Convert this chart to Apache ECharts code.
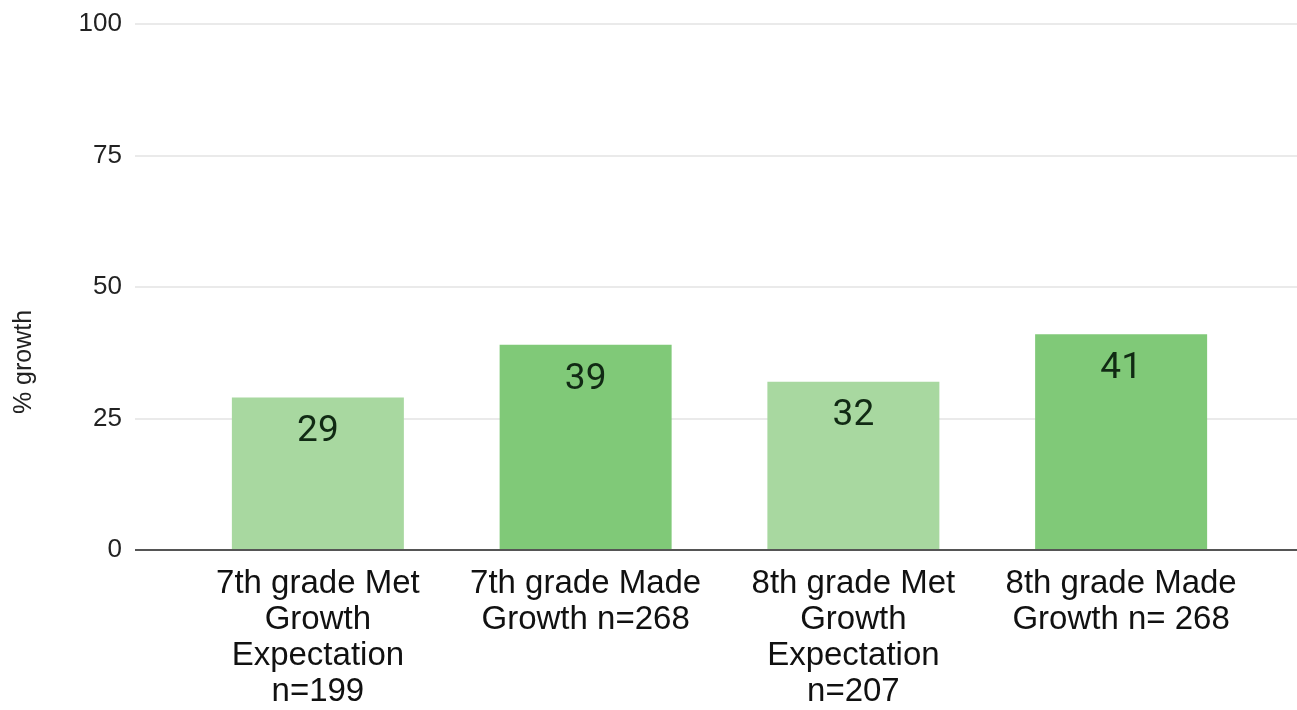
<!DOCTYPE html>
<html>
<head>
<meta charset="utf-8">
<script src="https://cdn.jsdelivr.net/npm/echarts@6/dist/echarts.min.js"></script>
<style>html,body{margin:0;padding:0;background:#fff}#c{width:1297px;height:710px}</style>
</head>
<body>
<div id="c"></div>
<script>
const categories = [
  "7th grade Met\nGrowth\nExpectation\nn=199",
  "7th grade Made\nGrowth n=268",
  "8th grade Met\nGrowth\nExpectation\nn=207",
  "8th grade Made\nGrowth n= 268"
];
const values = [29, 39, 32, 41];
const barColors = ["#a8d8a0", "#80c978", "#a8d8a0", "#80c978"];
const yTicks = [0, 25, 50, 75, 100];
const yTitle = "% growth";

const chart = echarts.init(document.getElementById('c'), null, {renderer: 'canvas'});
chart.setOption({
  animation: false,
  backgroundColor: '#fff',
  grid: [
    {left: 135, right: 0, top: 24, bottom: 160, containLabel: false},
    {left: 184, right: 42, top: 24, bottom: 160, containLabel: false}
  ],
  graphic: [{
    type: 'text', rotation: Math.PI / 2, x: 24, y: 362,
    style: {text: yTitle, font: '25px "Liberation Sans", Arial, sans-serif', fill: '#222',
      align: 'center', verticalAlign: 'middle', textAlign: 'center', textVerticalAlign: 'middle'}
  }],
  xAxis: [
    {gridIndex: 0, type: 'value', min: 0, max: 1, show: false},
    {gridIndex: 1, type: 'category', data: categories,
      axisLine: {show: false}, axisTick: {show: false},
      axisLabel: {interval: 0, color: '#111', fontSize: 33, lineHeight: 36,
        fontFamily: '"Liberation Sans", Arial, sans-serif', margin: 16}}
  ],
  yAxis: [
    {gridIndex: 0, type: 'value', min: yTicks[0], max: yTicks[yTicks.length - 1], interval: 25,
      axisLine: {show: false}, axisTick: {show: false},
      splitLine: {lineStyle: {color: '#e3e3e3', width: 1.5}},
      axisLabel: {color: '#222', fontSize: 26, margin: 13,
        fontFamily: '"Liberation Sans", Arial, sans-serif'}},
    {gridIndex: 1, type: 'value', min: 0, max: 100, interval: 25, show: false}
  ],
  series: [
    {
      type: 'bar', xAxisIndex: 1, yAxisIndex: 1,
      data: values.map((v, i) => ({value: v, itemStyle: {color: barColors[i]}})),
      barWidth: 172,
      label: {show: true, position: 'insideTop', distance: 16, color: '#112a14',
        fontSize: 37, fontFamily: 'Roboto, sans-serif'},
      z: 2
    },
    {
      type: 'line', xAxisIndex: 0, yAxisIndex: 0, data: [], silent: true,
      markLine: {symbol: 'none', silent: true, label: {show: false},
        lineStyle: {color: '#555', width: 2, type: 'solid'},
        data: [{yAxis: 0}]},
      z: 5
    }
  ]
});
</script>
</body>
</html>
